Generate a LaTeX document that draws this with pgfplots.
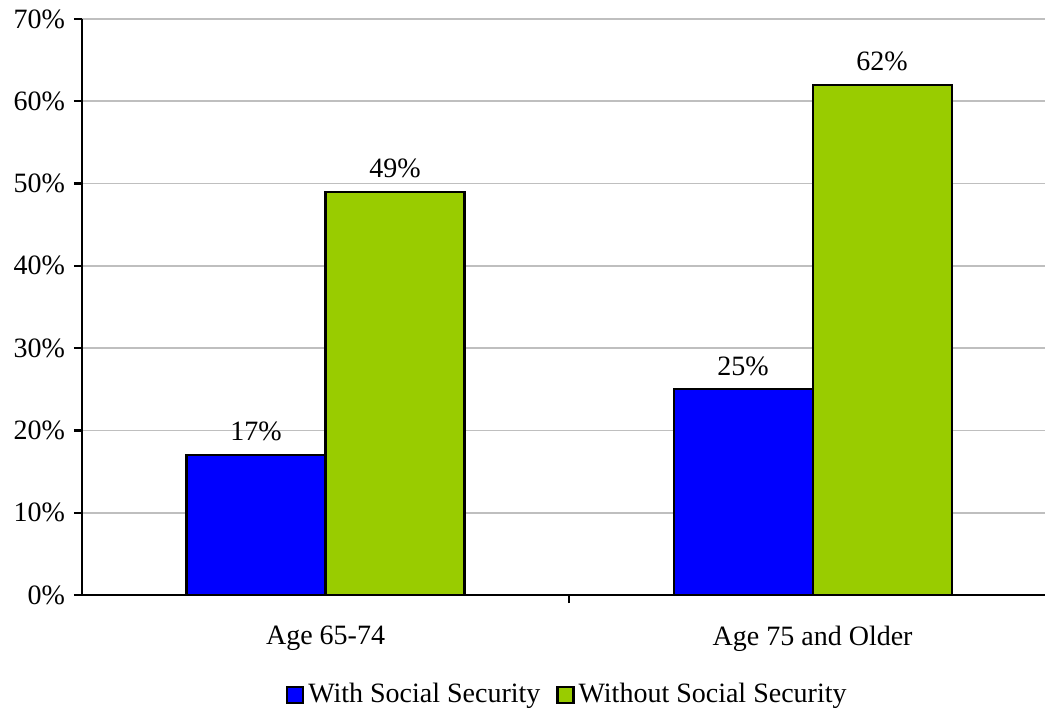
\documentclass[border=0pt]{standalone}
\usepackage{pgfplots}
\pgfplotsset{compat=1.18}
\usepackage{fontspec}
\setmainfont{Liberation Serif}
\definecolor{barblue}{HTML}{0000FF}
\definecolor{bargreen}{HTML}{99CC00}
\newcommand{\cf}{\fontsize{14}{16}\selectfont}
\begin{document}
\begin{tikzpicture}
\begin{axis}[
  at={(0,0)}, anchor=south west,
  scale only axis, width=481.5pt, height=288pt,
  font=\cf,
  ybar=0pt, bar width=69.5pt,
  xmin=-0.5, xmax=1.477, ymin=0, ymax=70,
  axis x line*=bottom, axis y line*=left,
  axis line style={line width=1.1pt, black},
  xtick={0,1}, xticklabels={Age 65-74, Age 75 and Older},
  major x tick style={draw=none},
  extra x ticks={0.5}, extra x tick labels={},
  extra x tick style={major x tick style={draw=black, line width=1.1pt}, tick align=outside, major tick length=4pt, grid=none},
  ytick={0,10,...,70},
  yticklabel={\pgfmathprintnumber{\tick}\%},
  /pgf/number format/assume math mode=true,
  ytick style={draw=black, line width=1.1pt},
  tick align=outside, major tick length=4pt,
  ymajorgrids, grid style={draw=black!25, line width=0.9pt},
  ticklabel style={font=\cf},
  yticklabel style={xshift=-1pt},
  xticklabel style={yshift=-8pt},
  nodes near coords={\pgfmathprintnumber{\pgfplotspointmeta}\%},
  every node near coord/.append style={font=\cf, text=black, yshift=3pt},
  legend style={at={(axis description cs:0.505,0)}, anchor=north, yshift=-42pt, draw=none, font=\cf, legend columns=-1, /tikz/every even column/.append style={column sep=6pt}, inner sep=0pt},
  legend image code/.code={\draw[#1, line width=1.1pt] (0pt,-4pt) rectangle (8pt,4pt);},
  legend cell align=left,
]
\addplot[fill=barblue, draw=black, line width=1.1pt] coordinates {(0,17) (1,25)};
\addplot[fill=bargreen, draw=black, line width=1.1pt] coordinates {(0,49) (1,62)};
\legend{With Social Security, Without Social Security}
\end{axis}
\pgfresetboundingbox
\path (-41pt,-59pt) rectangle (481.5pt,297.5pt);
\end{tikzpicture}
\end{document}
